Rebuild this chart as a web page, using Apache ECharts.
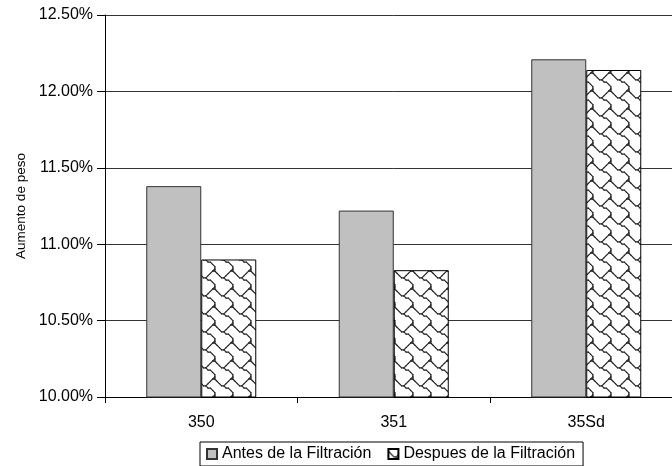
<!DOCTYPE html>
<html>
<head>
<meta charset="utf-8">
<script src="https://cdn.jsdelivr.net/npm/echarts@6/dist/echarts.min.js"></script>
<style>
  html, body { margin: 0; padding: 0; background: #fff; overflow: hidden; }
  #chart { width: 700px; height: 466px; }
</style>
</head>
<body>
<div id="chart"></div>
<script>
// Sample groups and weight gain (%) before / after filtration
const categories = ['350', '351', '35Sd'];
const seriesNames = ['Antes de la Filtración', 'Despues de la Filtración'];
const antes = [11.38, 11.22, 12.21];
const despues = [10.90, 10.83, 12.14];
const yTicks = { min: 10, max: 12.5, step: 0.5 };

// Shingle-style hatch tile: the 8x8 bitmap is traced as thin connected strokes
function makeShingle() {
  const bits = [0x03, 0x84, 0x48, 0x30, 0x0c, 0x02, 0x01, 0x01];
  const on = (r, c) => (bits[(r + 8) % 8] & (0x80 >> ((c + 8) % 8))) !== 0;
  const S = 18, k = S / 8;
  const cv = document.createElement('canvas');
  cv.width = S; cv.height = S;
  const g = cv.getContext('2d');
  g.fillStyle = '#fff';
  g.fillRect(0, 0, S, S);
  g.strokeStyle = '#2a2a2a';
  g.lineWidth = 1.3;
  g.lineCap = 'round';
  const nbrs = [[0, 1], [1, -1], [1, 0], [1, 1]];
  for (let oy = -1; oy <= 1; oy++) {
    for (let ox = -1; ox <= 1; ox++) {
      for (let r = 0; r < 8; r++) {
        for (let c = 0; c < 8; c++) {
          if (!on(r, c)) continue;
          const x0 = (c + 0.5) * k + ox * S, y0 = (r + 0.5) * k + oy * S;
          nbrs.forEach(([dr, dc]) => {
            if (!on(r + dr, c + dc)) return;
            g.beginPath();
            g.moveTo(x0, y0);
            g.lineTo(x0 + dc * k, y0 + dr * k);
            g.stroke();
          });
        }
      }
    }
  }
  return cv;
}
const shingle = { image: makeShingle(), repeat: 'repeat' };

const FONT = 'Liberation Sans, Arial, sans-serif';
const chart = echarts.init(document.getElementById('chart'), null, { renderer: 'canvas' });

chart.setOption({
  animation: false,
  backgroundColor: '#fff',
  textStyle: { fontFamily: FONT, color: '#000' },
  // the plot runs past the right edge of the visible page
  grid: { left: 105, top: 15, width: 577.5, height: 382, containLabel: false },
  legend: {
    data: seriesNames,
    left: 200,
    top: 442,
    orient: 'horizontal',
    itemWidth: 10,
    itemHeight: 10,
    itemGap: 16,
    padding: [4, 8, 4, 6],
    borderColor: '#000',
    borderWidth: 1,
    icon: 'rect',
    textStyle: { fontFamily: FONT, fontSize: 16, color: '#000' }
  },
  xAxis: {
    type: 'category',
    data: categories,
    axisLine: { lineStyle: { color: '#000', width: 1 } },
    axisTick: { show: true, length: 6, lineStyle: { color: '#000' } },
    axisLabel: { fontFamily: FONT, fontSize: 16, color: '#000', margin: 18 },
    splitLine: { show: false }
  },
  yAxis: {
    type: 'value',
    min: yTicks.min,
    max: yTicks.max,
    interval: yTicks.step,
    name: 'Aumento de peso',
    nameLocation: 'middle',
    nameRotate: 90,
    nameGap: 77,
    nameTextStyle: { fontFamily: FONT, fontSize: 13.5, color: '#000' },
    axisLine: { show: true, lineStyle: { color: '#000', width: 1 } },
    axisTick: { show: true, length: 8, lineStyle: { color: '#000' } },
    axisLabel: {
      fontFamily: FONT, fontSize: 16, color: '#000', margin: 12,
      formatter: v => v.toFixed(2) + '%'
    },
    splitLine: { show: true, lineStyle: { color: '#333', width: 1 } }
  },
  series: [
    {
      name: seriesNames[0],
      type: 'bar',
      data: antes,
      barWidth: 55,
      barGap: '0%',
      itemStyle: { color: '#c0c0c0', borderColor: '#333', borderWidth: 1 }
    },
    {
      name: seriesNames[1],
      type: 'bar',
      data: despues,
      barWidth: 55,
      barGap: '0%',
      itemStyle: { color: shingle, borderColor: '#000', borderWidth: 1 }
    }
  ]
});
</script>
</body>
</html>
